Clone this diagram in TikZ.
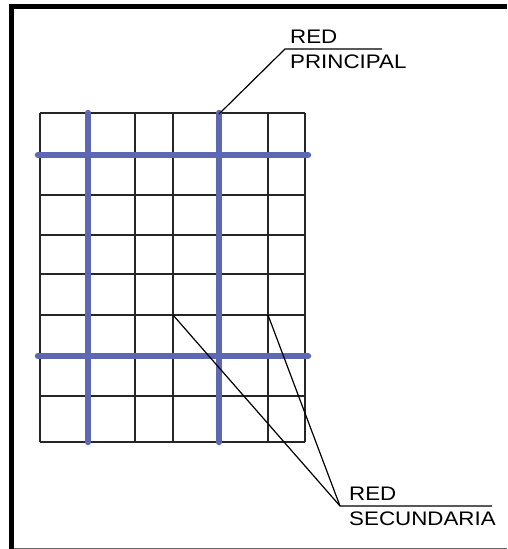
\documentclass[tikz,border=0pt]{standalone}
\usepackage{fontspec}
\setmainfont{Liberation Sans}
\usepackage{tikz}

% texto algo ensanchado, como en el plano
\newcommand{\etq}[1]{\scalebox{1.14}[1]{#1}}

\definecolor{azulred}{RGB}{94,103,178}
\tikzset{
  rejilla/.style={line width=1.4pt, black!85},
  principal/.style={line width=6.5pt, color=azulred, line cap=round},
  guia/.style={line width=1.2pt, black},
  etiqueta/.style={inner sep=0pt, font=\fontsize{19.6}{22}\selectfont}
}

\begin{document}
\begin{tikzpicture}[x=1pt, y=-1pt]
    % caja del dibujo
    \useasboundingbox (0,0) rectangle (507,549);
    \fill[white] (0,0) rectangle (507,549);

    % marco
    \draw[line width=5pt] (11.5,549) -- (11.5,6.5) -- (507,6.5);
    \draw[line width=1pt, black!60] (14,548) -- (507,548);

    % rejilla
    \foreach \x in {40,88,135,173,219,268,305}
        \draw[rejilla] (\x,113) -- (\x,442);
    \foreach \y in {113,155,195,235,274,315,356,396,442}
        \draw[rejilla] (40,\y) -- (305,\y);

    % red principal
    \draw[principal] (88,113) -- (88,442);
    \draw[principal] (219,113) -- (219,442);
    \draw[principal] (38,155) -- (308,155);
    \draw[principal] (38,356) -- (308,356);

    % puntos de las guias
    \coordinate (P)  at (219,114);
    \coordinate (Q)  at (285,49);
    \coordinate (Qf) at (382,49);
    \coordinate (S1) at (173,315);
    \coordinate (S2) at (268,315);
    \coordinate (T)  at (340,506);
    \coordinate (Tf) at (492,506);

    % textos
    \node[etiqueta, anchor=base west] (redp)  at (290,43.5) {\etq{RED}};
    \node[etiqueta, anchor=base west] (princ) at (290,68)   {\etq{PRINCIPAL}};
    \node[etiqueta, anchor=base west] (reds)  at (349,500)  {\etq{RED}};
    \node[etiqueta, anchor=base west] (secun) at (349,525.5) {\etq{SECUNDARIA}};

    % guias
    \draw[guia] (P) -- (Q) -- (Qf);
    \draw[guia] (S1) -- (T) -- (Tf);
    \draw[guia] (S2) -- (T);
\end{tikzpicture}
\end{document}
